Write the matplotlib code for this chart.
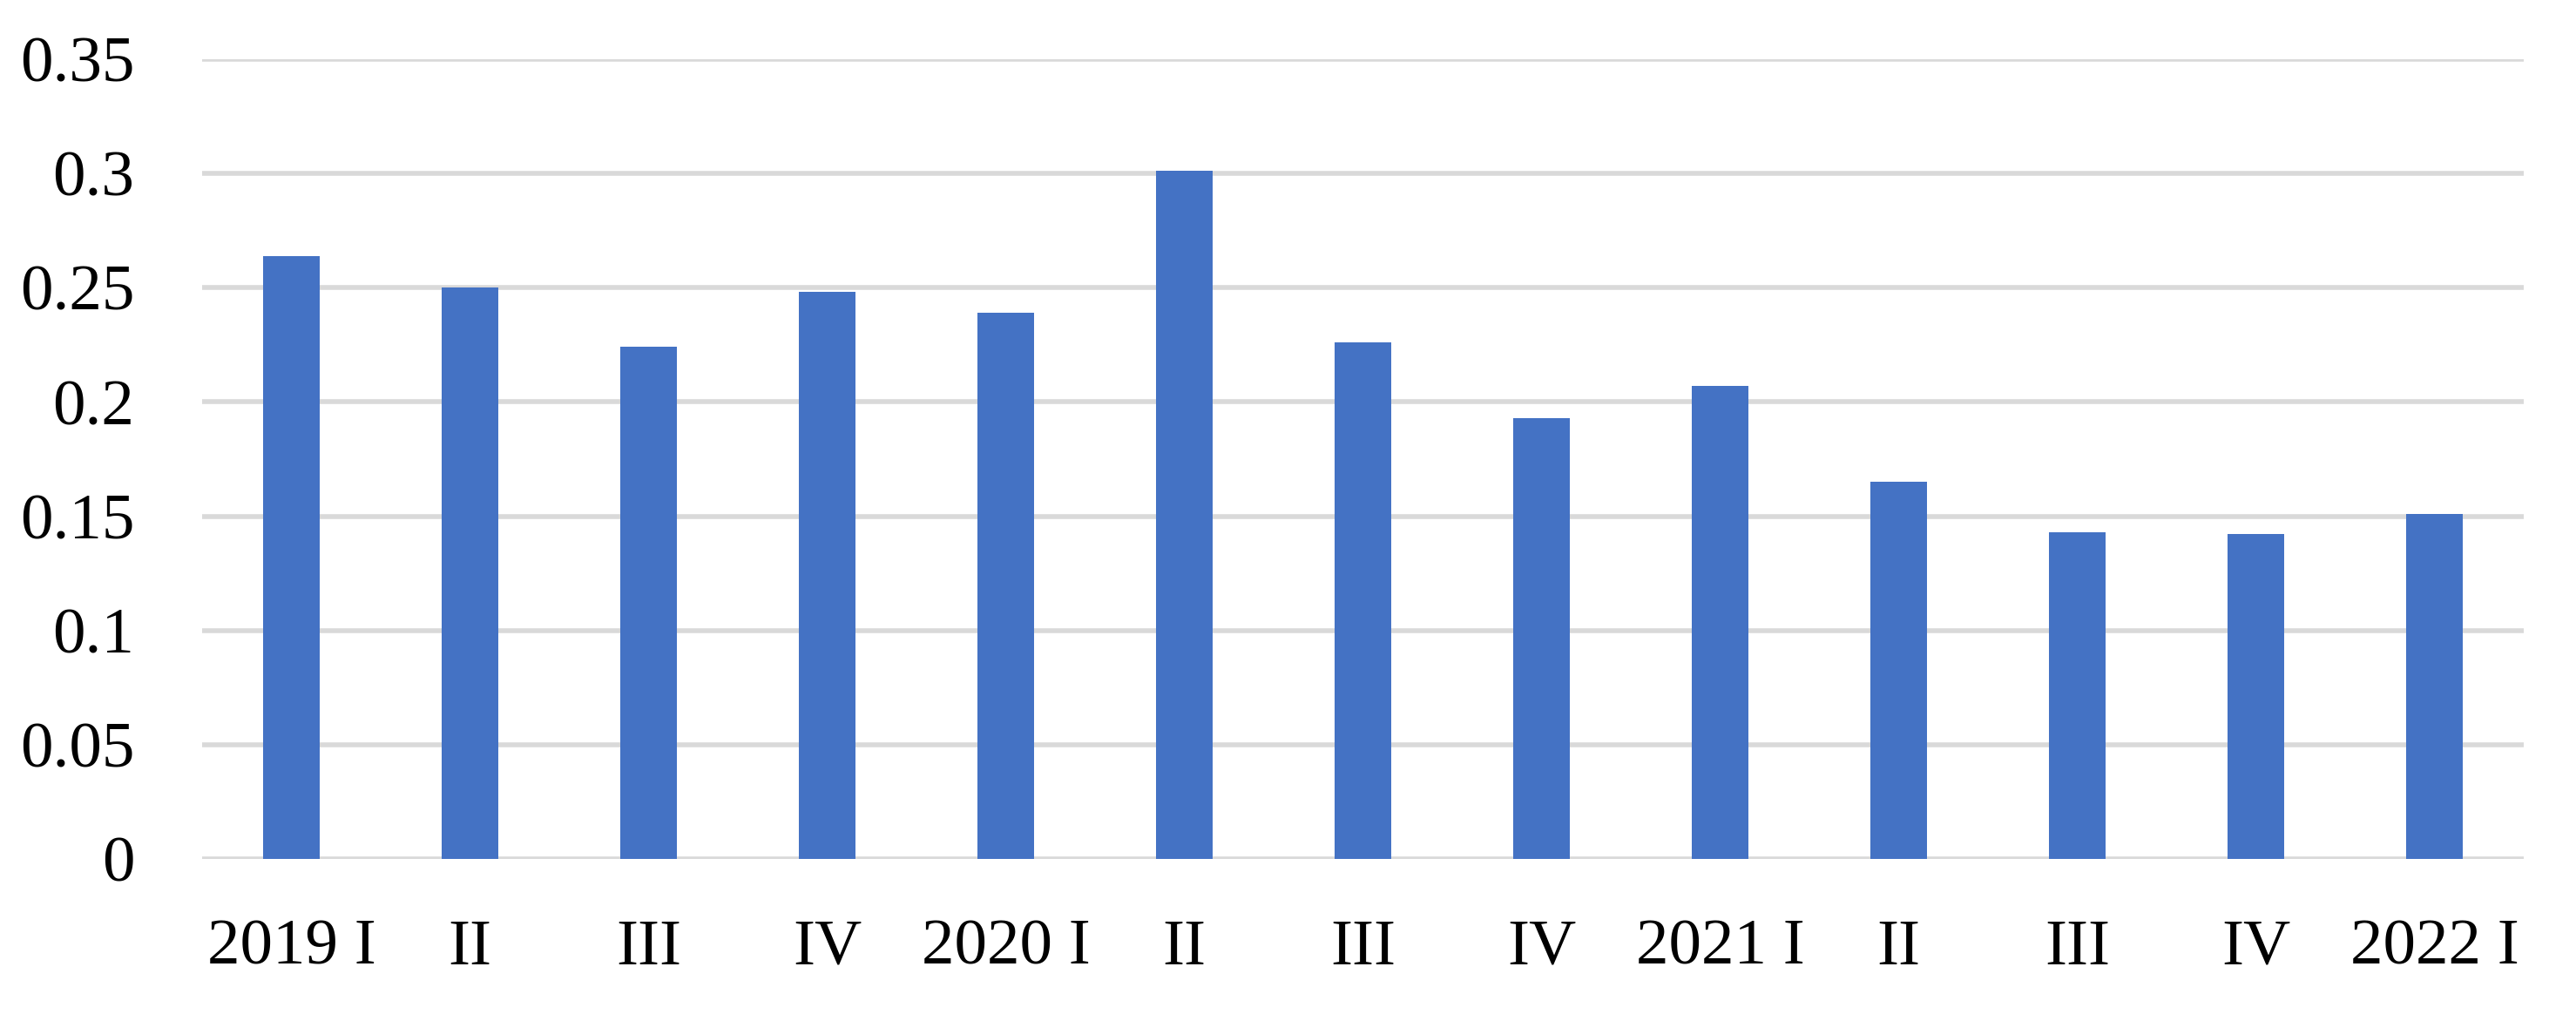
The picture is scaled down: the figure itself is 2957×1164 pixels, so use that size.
import matplotlib
matplotlib.use("Agg")
import matplotlib.pyplot as plt
import numpy as np

quarters = ["2019 I", "II", "III", "IV", "2020 I", "II", "III", "IV",
            "2021 I", "II", "III", "IV", "2022 I"]
values = [0.264, 0.250, 0.224, 0.248, 0.239, 0.301, 0.226, 0.193,
          0.207, 0.165, 0.143, 0.142, 0.151]
y_ticks = [0, 0.05, 0.1, 0.15, 0.2, 0.25, 0.3, 0.35]
y_labels = ["0", "0.05", "0.1", "0.15", "0.2", "0.25", "0.3", "0.35"]

plt.rcParams['font.family'] = ['Liberation Serif', 'DejaVu Serif']

fig = plt.figure(figsize=(29.57, 11.64), dpi=100)
ax = fig.add_axes([0.0785, 0.153, 0.9012, 0.7886])

x = np.arange(len(quarters))
ax.bar(x, values, width=0.32, color="#4472C4", zorder=3)

ax.set_xlim(-0.5, len(quarters) - 0.5)
ax.set_ylim(0, 0.35)
ax.set_yticks(y_ticks)
ax.set_yticklabels(y_labels)
ax.set_xticks(x)
ax.set_xticklabels(quarters)

ax.grid(axis="y", color="#D9D9D9", linewidth=4, zorder=0)
ax.set_axisbelow(True)
for s in ax.spines.values():
    s.set_visible(False)
ax.tick_params(axis="both", length=0, labelsize=54)
ax.tick_params(axis="y", pad=56)
ax.tick_params(axis="x", pad=50)

fig.savefig("out.png", dpi=100)
